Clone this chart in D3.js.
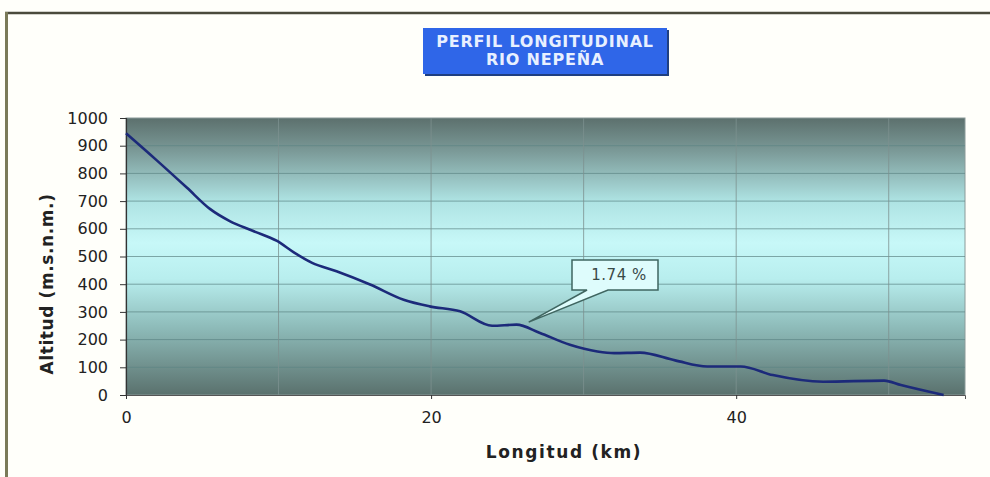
<!DOCTYPE html>
<html><head><meta charset="utf-8">
<script src="https://cdn.jsdelivr.net/npm/d3@7"></script>
<style>
html,body{margin:0;padding:0;background:#fffffa;}
svg{display:block;}
text{font-family:"DejaVu Sans",Verdana,sans-serif;}
</style></head>
<body>
<svg id="chart" width="990" height="477"></svg>
<script>
// ---- data ----
const distanceKm = [0, 2, 4, 5.5, 6.8, 8.3, 9.9, 11, 12.2, 13.8, 16, 18.2, 19.9, 21.9, 24, 25.6, 27.1, 29.1, 30.9, 32, 33.7, 36, 38.1, 40.3, 42.4, 45.7, 49.7, 50.8, 53.6];
const altitude   = [945, 848, 748, 672, 628, 593, 556, 515, 477, 447, 399, 344, 320, 302, 250, 254, 225, 181, 157, 151, 153, 125, 103, 103, 72, 48, 52, 36, 0];
const yTicks = [0,100,200,300,400,500,600,700,800,900,1000];
const xTickLabels = [0, 20, 40];
const xGrid = [10, 20, 30, 40, 50];
const titleLines = ["PERFIL LONGITUDINAL", "RIO NEPEÑA"];
const annotationText = "1.74 %";
const annotationPoint = [26.4, 263];

const svg = d3.select("#chart");
const W = 990, H = 477;
const m = {left:126, right:965, top:118, bottom:395};

const x = d3.scaleLinear().domain([0, 55]).range([m.left, m.right]);
const y = d3.scaleLinear().domain([0, 1000]).range([m.bottom, m.top]);

// outer frame
svg.append("rect").attr("width",W).attr("height",H).attr("fill","#fffffa");
svg.append("line").attr("x1",5).attr("x2",W).attr("y1",13).attr("y2",13).attr("stroke","#4a4a3c").attr("stroke-width",2.5);
svg.append("line").attr("x1",6.5).attr("x2",6.5).attr("y1",12).attr("y2",H).attr("stroke","#7a7a58").attr("stroke-width",3);

// plot background gradient
const defs = svg.append("defs");
const grad = defs.append("linearGradient").attr("id","bg").attr("x1",0).attr("x2",0).attr("y1",0).attr("y2",1);
[[0,"#5c706d"],[0.12,"#7b9a98"],[0.3,"#aee3e3"],[0.45,"#c7f8f8"],[0.58,"#b8eeee"],[0.75,"#8fbdbb"],[1,"#5a716d"]]
  .forEach(([o,c])=>grad.append("stop").attr("offset",o).attr("stop-color",c));
svg.append("rect").attr("x",m.left).attr("y",m.top).attr("width",m.right-m.left).attr("height",m.bottom-m.top)
  .attr("fill","url(#bg)").attr("stroke","#8a9a98").attr("stroke-width",1);

// gridlines
svg.append("g").selectAll("line").data(yTicks.filter(d=>d>0 && d<1000)).join("line")
  .attr("x1",m.left).attr("x2",m.right).attr("y1",d=>y(d)).attr("y2",d=>y(d))
  .attr("stroke","#5d8585").attr("stroke-opacity",0.7).attr("stroke-width",1);
svg.append("g").selectAll("line").data(xGrid).join("line")
  .attr("x1",d=>x(d)).attr("x2",d=>x(d)).attr("y1",m.top).attr("y2",m.bottom)
  .attr("stroke","#7d9190").attr("stroke-opacity",0.8).attr("stroke-width",1);

// axes
const yAxis = d3.axisLeft(y).tickValues(yTicks).tickSize(6).tickPadding(12).tickFormat(d3.format("d"));
const gy = svg.append("g").attr("transform",`translate(${m.left},0)`).call(yAxis);
gy.select(".domain").attr("stroke","#333").attr("stroke-width",1.2);
gy.selectAll(".tick line").attr("stroke","#333");
gy.selectAll("text").attr("font-size",16).attr("fill","#222").attr("font-family","'DejaVu Sans',Verdana,sans-serif");

const xAxis = d3.axisBottom(x).tickValues(xTickLabels).tickSize(4).tickPadding(13).tickFormat(d3.format("d"));
const gx = svg.append("g").attr("transform",`translate(0,${m.bottom})`).call(xAxis);
gx.select(".domain").attr("stroke","#555").attr("stroke-width",1);
gx.selectAll(".tick line").attr("stroke","#333");
gx.selectAll("text").attr("font-size",16).attr("fill","#222").attr("font-family","'DejaVu Sans',Verdana,sans-serif");

// line
const line = d3.line().x((d,i)=>x(distanceKm[i])).y(d=>y(d)).curve(d3.curveMonotoneX);
svg.append("path").datum(altitude).attr("d",line).attr("fill","none")
  .attr("stroke","#1c2a7a").attr("stroke-width",2.6).attr("stroke-linejoin","round");

// annotation callout
const bx0 = 572, bx1 = 658, by0 = 260, by1 = 290;
const tip = [x(annotationPoint[0]), y(annotationPoint[1])];
const callout = `M${bx0},${by0} L${bx1},${by0} L${bx1},${by1} L608,${by1} L${tip[0]},${tip[1]} L587,${by1} L${bx0},${by1} Z`;
svg.append("path").attr("d",callout).attr("fill","#defcfc").attr("stroke","#3f6560").attr("stroke-width",1.5);
svg.append("text").attr("x",619).attr("y",280).attr("text-anchor","middle")
  .attr("font-size",15).attr("letter-spacing",0.5).attr("fill","#3a4a48").text(annotationText);

// title box
svg.append("rect").attr("x",425).attr("y",30).attr("width",244).attr("height",46).attr("fill","#1f3f80");
svg.append("rect").attr("x",423).attr("y",28).attr("width",244).attr("height",46).attr("fill","#2f66e8");
svg.append("g").selectAll("text").data(titleLines).join("text")
  .attr("x",545).attr("y",(d,i)=>47+i*18).attr("text-anchor","middle")
  .attr("font-size",16).attr("letter-spacing",0.8).attr("font-weight","bold").attr("fill","#e8f0ff").text(d=>d);

// axis titles
svg.append("text").attr("x",564).attr("y",458).attr("text-anchor","middle")
  .attr("font-size",17).attr("letter-spacing",1.6).attr("font-weight","bold").attr("fill","#222").text("Longitud (km)");
svg.append("text").attr("transform",`translate(53,284) rotate(-90)`).attr("text-anchor","middle")
  .attr("font-size",17).attr("letter-spacing",0.6).attr("font-weight","bold").attr("fill","#222").text("Altitud (m.s.n.m.)");
</script>
</body></html>
